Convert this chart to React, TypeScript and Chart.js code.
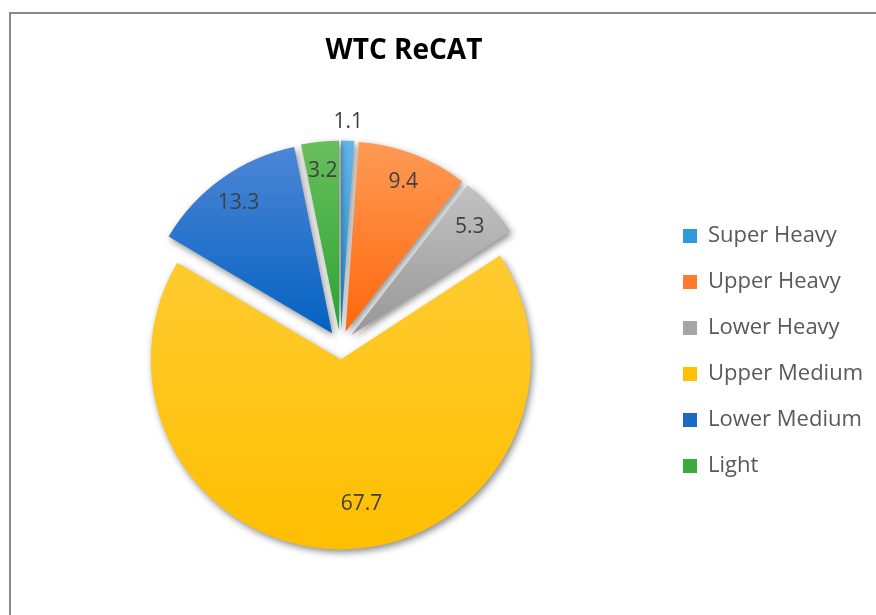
import React, { useEffect, useRef } from 'react';
import { Chart, registerables } from 'chart.js';

Chart.register(...registerables);

// ---- data ----
const TITLE = 'WTC ReCAT';
const categories = ['Super Heavy', 'Upper Heavy', 'Lower Heavy', 'Upper Medium', 'Lower Medium', 'Light'];
const shares = [1.1, 9.4, 5.3, 67.7, 13.3, 3.2];
const solidColors = ['#2F9ADA', '#FF7B2E', '#A6A6A6', '#FFC000', '#1C6AC4', '#3AAA3A'];
const topColors = ['#62B5E9', '#FF9A55', '#C2C2C2', '#FFCB30', '#4C86D6', '#68BE5C'];
const bottomColors = ['#2690D6', '#FF680C', '#979797', '#FFBE00', '#0462C2', '#2CA432'];

// ---- layout / style ----
const FONT = '"Open Sans", "Liberation Sans", sans-serif';
const W = 876;
const H = 615;
const PIE_R = 190;
const EXPLODE = 14.4;
const CENTER_X = 340.5;
const CENTER_Y = 345;
const TITLE_X = 404;
const TITLE_Y = 51;
const TITLE_SIZE = 28;
const CHART_TOP = 90;
const LEGEND_BOX_X = 683;
const LEGEND_FONT = 22;
const LEGEND_BOX = 14;
const LEGEND_PITCH = 46;
const LABEL_FONT = 21;

function sliceGradient(ctx: CanvasRenderingContext2D, chart: any, i: number) {
  const area = chart.chartArea;
  if (!area) return solidColors[i];
  const cx = (area.left + area.right) / 2;
  const cy = (area.top + area.bottom) / 2;
  const total = shares.reduce((a, b) => a + b, 0);
  let before = 0;
  for (let k = 0; k < i; k++) before += shares[k];
  const a0 = (before / total) * Math.PI * 2;
  const a1 = ((before + shares[i]) / total) * Math.PI * 2;
  const mid = (a0 + a1) / 2;
  const sx = cx + Math.sin(mid) * EXPLODE;
  const sy = cy - Math.cos(mid) * EXPLODE;
  const ys = [sy, sy - Math.cos(a0) * PIE_R, sy - Math.cos(a1) * PIE_R];
  if (a0 <= 0) ys.push(sy - PIE_R);
  if (a0 <= Math.PI && a1 >= Math.PI) ys.push(sy + PIE_R);
  const ymin = Math.min(...ys);
  const ymax = Math.max(...ys);
  const g = ctx.createLinearGradient(sx, ymin, sx, ymax);
  g.addColorStop(0, topColors[i]);
  g.addColorStop(1, bottomColors[i]);
  return g;
}

const piePlugin = {
  id: 'pieTweaks',
  afterLayout(chart: any) {
    const t = chart.titleBlock;
    if (t) {
      const w = t.right - t.left;
      t.left = TITLE_X - w / 2;
      t.right = TITLE_X + w / 2;
    }
  },
  afterDatasetUpdate(chart: any, args: any) {
    const meta = chart.getDatasetMeta(args.index);
    const area = chart.chartArea;
    const cx = (area.left + area.right) / 2;
    const cy = (area.top + area.bottom) / 2;
    meta.data.forEach((arc: any) => {
      const mid = (arc.startAngle + arc.endAngle) / 2;
      arc.x = cx + Math.cos(mid) * EXPLODE;
      arc.y = cy + Math.sin(mid) * EXPLODE;
      arc.outerRadius = PIE_R;
    });
  },
  beforeDatasetsDraw(chart: any) {
    const ctx = chart.ctx;
    ctx.save();
    ctx.shadowColor = 'rgba(0,0,0,0.45)';
    ctx.shadowBlur = 7;
    ctx.shadowOffsetX = 2;
    ctx.shadowOffsetY = 3;
  },
  afterDatasetsDraw(chart: any) {
    const ctx = chart.ctx;
    ctx.restore();
    const meta = chart.getDatasetMeta(0);
    const total = shares.reduce((a, b) => a + b, 0);
    ctx.save();
    ctx.font = `${LABEL_FONT}px ${FONT}`;
    ctx.fillStyle = '#404040';
    ctx.textAlign = 'center';
    ctx.textBaseline = 'middle';
    meta.data.forEach((arc: any, i: number) => {
      const frac = shares[i] / total;
      let mid = (arc.startAngle + arc.endAngle) / 2;
      let r: number;
      if (frac < 0.02) r = PIE_R + 20;
      else if (frac > 0.5) {
        r = 0.76 * PIE_R;
        mid -= (7 * Math.PI) / 180;
      } else r = 0.85 * PIE_R;
      ctx.fillText(shares[i].toFixed(1), arc.x + Math.cos(mid) * r, arc.y + Math.sin(mid) * r + 1.5);
    });
    ctx.restore();
  },
};

export default function App() {
  const ref = useRef<HTMLCanvasElement | null>(null);

  useEffect(() => {
    const canvas = ref.current;
    if (!canvas) return;
    const mctx = document.createElement('canvas').getContext('2d')!;
    mctx.font = `${LEGEND_FONT}px ${FONT}`;
    const maxW = Math.max(...categories.map((c) => mctx.measureText(c).width));
    const legendPad = LEGEND_PITCH - LEGEND_FONT;
    const padRight = Math.max(0, W - (LEGEND_BOX_X + LEGEND_BOX + LEGEND_FONT / 2 + maxW + 10));
    const chartRight = LEGEND_BOX_X - legendPad;
    const padLeft = 2 * CENTER_X - chartRight;
    const titleLine = TITLE_SIZE * 1.2;
    const titlePadTop = TITLE_Y - titleLine / 2;
    const titlePadBottom = CHART_TOP - titlePadTop - titleLine;
    const padBottom = H - (2 * CENTER_Y - CHART_TOP);

    const chart = new Chart(canvas, {
      type: 'pie',
      data: {
        labels: categories,
        datasets: [
          {
            data: shares,
            backgroundColor: (c: any) => sliceGradient(c.chart.ctx, c.chart, c.dataIndex),
            borderWidth: 0,
          },
        ],
      },
      options: {
        responsive: false,
        animation: false,
        events: [],
        radius: PIE_R,
        layout: { padding: { left: padLeft, right: padRight, top: 0, bottom: padBottom } },
        plugins: {
          tooltip: { enabled: false },
          title: {
            display: true,
            text: TITLE,
            color: '#000000',
            font: { family: FONT, size: TITLE_SIZE, weight: 'bold', lineHeight: 1.2 },
            padding: { top: titlePadTop, bottom: titlePadBottom },
          },
          legend: {
            position: 'right',
            align: 'center',
            fullSize: false,
            title: { display: true, text: '', font: { size: 10, lineHeight: 1.2 }, padding: 0 },
            labels: {
              boxWidth: LEGEND_BOX,
              boxHeight: LEGEND_BOX,
              padding: legendPad,
              color: '#595959',
              font: { family: FONT, size: LEGEND_FONT },
              generateLabels: (ch: any) => {
                const base = (Chart as any).overrides.doughnut.plugins.legend.labels.generateLabels(ch);
                return base.map((it: any, i: number) => ({
                  ...it,
                  fillStyle: solidColors[i],
                  strokeStyle: solidColors[i],
                  lineWidth: 0,
                }));
              },
            },
          },
        },
      } as any,
      plugins: [piePlugin],
    });
    return () => chart.destroy();
  }, []);

  return (
    <div style={{ position: 'absolute', left: 0, top: 0, width: W, height: H, overflow: 'hidden', background: '#fff' }}>
      <div
        style={{
          position: 'absolute',
          left: 9,
          top: 12,
          width: 900,
          height: 700,
          borderLeft: '2px solid #8A8A8A',
          borderTop: '2px solid #8A8A8A',
        }}
      />
      <canvas ref={ref} width={W} height={H} style={{ position: 'absolute', left: 0, top: 0 }} />
    </div>
  );
}
